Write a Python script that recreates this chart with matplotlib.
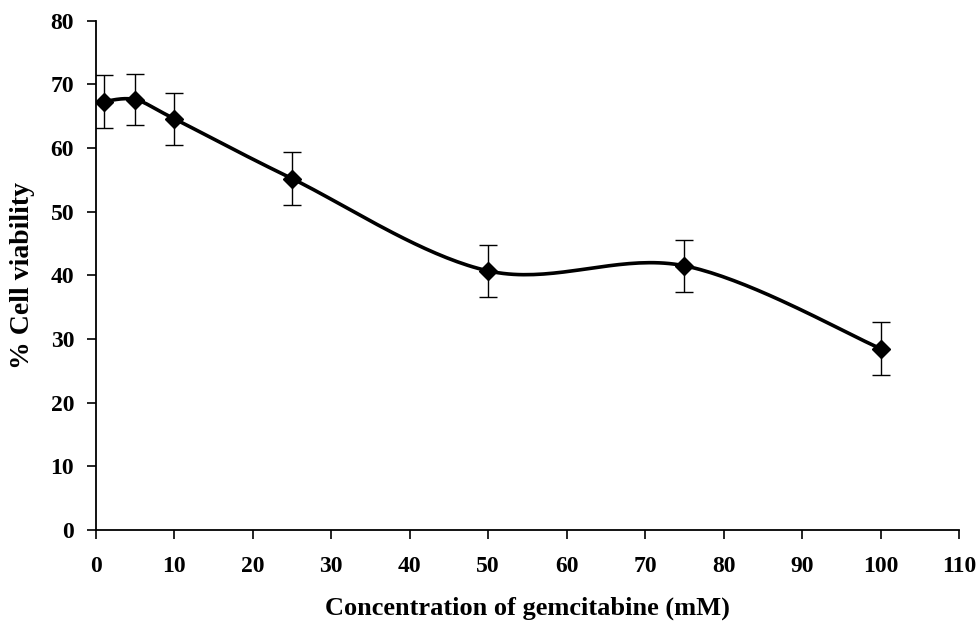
import numpy as np
import matplotlib
matplotlib.use("Agg")
import matplotlib.pyplot as plt

# gemcitabine concentration (mM) vs % cell viability
conc = [1, 5, 10, 25, 50, 75, 100]
viability = [67.3, 67.6, 64.6, 55.2, 40.7, 41.5, 28.5]
err = [4.1, 4.0, 4.1, 4.1, 4.1, 4.1, 4.1]

x_ticks = list(range(0, 111, 10))
y_ticks = list(range(0, 81, 10))


def smooth_curve(xs, ys, n=40):
    # Excel-style smoothed line: bezier segments, control points from neighbours
    p = np.column_stack([xs, ys]).astype(float)
    p = np.vstack([p[0], p, p[-1]])
    out = []
    t = np.linspace(0, 1, n)[:, None]
    for i in range(1, len(p) - 2):
        p0, p1, p2, p3 = p[i - 1], p[i], p[i + 1], p[i + 2]
        c1 = p1 + (p2 - p0) / 6
        c2 = p2 - (p3 - p1) / 6
        seg = ((1 - t) ** 3) * p1 + 3 * ((1 - t) ** 2) * t * c1 + 3 * (1 - t) * t ** 2 * c2 + t ** 3 * p2
        out.append(seg)
    out = np.vstack(out)
    return out[:, 0], out[:, 1]


plt.rcParams['font.family'] = ['Liberation Serif', 'DejaVu Serif']
plt.rcParams['font.weight'] = 'bold'

fig = plt.figure(figsize=(9.79, 6.23), dpi=100)
ax = fig.add_axes([0.0978, 0.1493, 0.8818, 0.8175])

sx, sy = smooth_curve(conc, viability)
ax.plot(sx, sy, color='black', lw=2.6, solid_capstyle='round')
ax.errorbar(conc, viability, yerr=err, fmt='none', ecolor='black',
            elinewidth=1.0, capsize=6.5, capthick=1.0)
ax.plot(conc, viability, linestyle='none', marker='D', markersize=9,
        color='black')

ax.set_xlim(0, 110)
ax.set_ylim(0, 80)
ax.set_xticks(x_ticks)
ax.set_yticks(y_ticks)
for s in ['top', 'right']:
    ax.spines[s].set_visible(False)
for s in ['left', 'bottom']:
    ax.spines[s].set_linewidth(1.3)
    ax.spines[s].set_color('black')
ax.tick_params(axis='both', direction='out', length=6.5, width=1.2,
               labelsize=17, colors='black')
ax.tick_params(axis='x', pad=12)
ax.tick_params(axis='y', pad=9)
for lab in ax.get_xticklabels() + ax.get_yticklabels():
    lab.set_fontweight('bold')

ax.set_xlabel("Concentration of gemcitabine (mM)", fontsize=19,
              fontweight='bold', labelpad=14)
ax.set_ylabel("% Cell viability", fontsize=20, fontweight='bold',
              labelpad=11)

fig.savefig("out.png", dpi=100)
